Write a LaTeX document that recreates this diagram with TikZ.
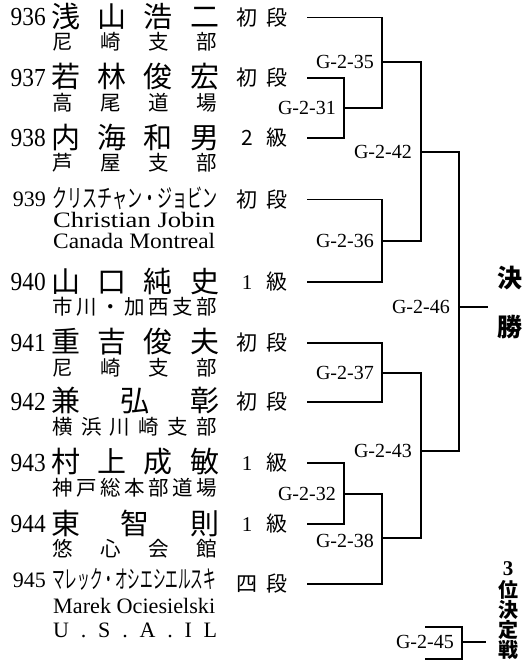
\documentclass[tikz,border=0pt]{standalone}
\usepackage{fontspec}
\usepackage{graphicx}
\setmainfont{Liberation Serif}
\newfontfamily\jp{Noto Sans CJK JP}
\newcommand\fs[1]{\fontsize{#1}{#1}\selectfont}
\newcommand\jus[2]{\makebox[#1][s]{#2}}
\newcommand\fitw[2]{\resizebox{#1}{\height}{#2}}
\newcommand\rk[2]{\makebox[20pt]{#1}\hspace{10pt}\makebox[20pt]{#2}}
\tikzset{
  num/.style={anchor=east, inner sep=0pt, font=\fs{26}},
  numsm/.style={anchor=east, inner sep=0pt, font=\fs{22}},
  nm/.style={anchor=west, inner sep=0pt, font=\jp\fs{29}},
  kana/.style={anchor=west, inner sep=0pt, font=\jp\fs{25}},
  aff/.style={anchor=west, inner sep=0pt, font=\jp\fs{20.5}},
  lat/.style={anchor=base west, inner sep=0pt, font=\fs{22}},
  rank/.style={anchor=west, inner sep=0pt, font=\jp\fs{21}},
  lbl/.style={anchor=east, inner sep=0pt, font=\fs{20}},
  ttl/.style={anchor=center, inner sep=0pt, font=\jp\bfseries\fs{25}},
  ttlsm/.style={anchor=center, inner sep=0pt, font=\jp\bfseries\fs{20}},
  br/.style={line width=1.1pt}
}
\begin{document}
\begin{tikzpicture}[x=1pt,y=-1pt]
\useasboundingbox (0,0) rectangle (525,660);
% ---------- entries ----------
% 936
\node[num] (n936) at (46,17.5) {\scalebox{0.9}[1]{936}};
\node[nm] (m936) at (51,16.5) {\jus{168pt}{浅\hfill 山\hfill 浩\hfill 二}};
\node[aff] (a936) at (52,41.5) {\jus{165pt}{尼\hfill 崎\hfill 支\hfill 部}};
\node[rank] (r936) at (237,17.5) {\rk{初}{段}};
% 937
\node[num] (n937) at (46,78) {\scalebox{0.9}[1]{937}};
\node[nm] (m937) at (51,77) {\jus{168pt}{若\hfill 林\hfill 俊\hfill 宏}};
\node[aff] (a937) at (52,102.5) {\jus{165pt}{高\hfill 尾\hfill 道\hfill 場}};
\node[rank] (r937) at (237,78) {\rk{初}{段}};
% 938
\node[num] (n938) at (46,138) {\scalebox{0.9}[1]{938}};
\node[nm] (m938) at (51,137) {\jus{168pt}{内\hfill 海\hfill 和\hfill 男}};
\node[aff] (a938) at (52,162.5) {\jus{165pt}{芦\hfill 屋\hfill 支\hfill 部}};
\node[rank] (r938) at (237,138) {\rk{2}{級}};
% 939
\node[numsm] (n939) at (46,199.5) {939};
\node[kana] (m939) at (52,198.5) {\fitw{165pt}{クリスチャン・ジョビン}};
\node[lat] (e939) at (53,227) {\fitw{162pt}{Christian Jobin}};
\node[lat] (c939) at (53,248) {\fitw{162pt}{Canada Montreal}};
\node[rank] (r939) at (237,199.5) {\rk{初}{段}};
% 940
\node[num] (n940) at (46,282) {\scalebox{0.9}[1]{940}};
\node[nm] (m940) at (51,282) {\jus{168pt}{山\hfill 口\hfill 純\hfill 史}};
\node[aff] (a940) at (52,306.5) {\jus{165pt}{市\hfill 川\hfill ・\hfill 加\hfill 西\hfill 支\hfill 部}};
\node[rank] (r940) at (237,282) {\rk{\fontspec{Liberation Serif}1}{級}};
% 941
\node[num] (n941) at (46,343) {\scalebox{0.9}[1]{941}};
\node[nm] (m941) at (51,342) {\jus{168pt}{重\hfill 吉\hfill 俊\hfill 夫}};
\node[aff] (a941) at (52,367.5) {\jus{165pt}{尼\hfill 崎\hfill 支\hfill 部}};
\node[rank] (r941) at (237,343) {\rk{初}{段}};
% 942
\node[num] (n942) at (46,402) {\scalebox{0.9}[1]{942}};
\node[nm] (m942) at (51,401) {\jus{168pt}{兼\hfill 弘\hfill 彰}};
\node[aff] (a942) at (52,426.5) {\jus{165pt}{横\hfill 浜\hfill 川\hfill 崎\hfill 支\hfill 部}};
\node[rank] (r942) at (237,402) {\rk{初}{段}};
% 943
\node[num] (n943) at (46,463) {\scalebox{0.9}[1]{943}};
\node[nm] (m943) at (51,462) {\jus{168pt}{村\hfill 上\hfill 成\hfill 敏}};
\node[aff] (a943) at (52,487.5) {\jus{165pt}{神\hfill 戸\hfill 総\hfill 本\hfill 部\hfill 道\hfill 場}};
\node[rank] (r943) at (237,463) {\rk{\fontspec{Liberation Serif}1}{級}};
% 944
\node[num] (n944) at (46,524) {\scalebox{0.9}[1]{944}};
\node[nm] (m944) at (51,523) {\jus{168pt}{東\hfill 智\hfill 則}};
\node[aff] (a944) at (52,548.5) {\jus{165pt}{悠\hfill 心\hfill 会\hfill 館}};
\node[rank] (r944) at (237,524) {\rk{\fontspec{Liberation Serif}1}{級}};
% 945
\node[numsm] (n945) at (46,580) {945};
\node[kana] (m945) at (52,579.5) {\fitw{164pt}{マレック・オシエシエルスキ}};
\node[lat] (e945) at (53,613) {\fitw{162pt}{Marek Ociesielski}};
\node[lat] (c945) at (53,637) {\jus{164pt}{U\hfill .\hfill S\hfill .\hfill A\hfill .\hfill I\hfill L}};
\node[rank] (r945) at (237,584) {\rk{四}{段}};
% ---------- bracket ----------
\coordinate (p1) at (307,17.5);
\coordinate (p2) at (307,78);
\coordinate (p3) at (307,138);
\coordinate (p4) at (307,199.5);
\coordinate (p5) at (307,282);
\coordinate (p6) at (307,343);
\coordinate (p7) at (307,402);
\coordinate (p8) at (307,463);
\coordinate (p9) at (307,524);
\coordinate (p10) at (307,584);
\coordinate (j31) at (344,108);
\coordinate (j35) at (382,62);
\coordinate (j36) at (382,241);
\coordinate (j42) at (421,152);
\coordinate (j37) at (382,373);
\coordinate (j32) at (344,494);
\coordinate (j38) at (382,538);
\coordinate (j43) at (421,451);
\coordinate (j46) at (459,307);
\coordinate (fin) at (488,307);
\coordinate (t1) at (425,627);
\coordinate (t2) at (425,659);
\coordinate (j45) at (462,642);
\coordinate (thr) at (486,642);
\draw[br] (p2) -| (j31) |- (p3);
\draw[br] (p1) -| (j35) |- (j31);
\draw[br] (p4) -| (j36) |- (p5);
\draw[br] (j35) -| (j42) |- (j36);
\draw[br] (p6) -| (j37) |- (p7);
\draw[br] (p8) -| (j32) |- (p9);
\draw[br] (j32) -| (j38) |- (p10);
\draw[br] (j37) -| (j43) |- (j38);
\draw[br] (j42) -| (j46) |- (j43);
\draw[br] (j46) -- (fin);
\draw[br] (t1) -| (j45) |- (t2);
\draw[br] (j45) -- (thr);
% ---------- match labels ----------
\node[lbl] (g31) at ([xshift=-8pt]j31) {G-2-31};
\node[lbl] (g35) at ([xshift=-8pt]j35) {G-2-35};
\node[lbl] (g36) at ([xshift=-8pt]j36) {G-2-36};
\node[lbl] (g42) at ([xshift=-9pt]j42) {G-2-42};
\node[lbl] (g37) at ([xshift=-8pt]j37) {G-2-37};
\node[lbl] (g32) at ([xshift=-8pt]j32) {G-2-32};
\node[lbl] (g38) at ([xshift=-8pt,yshift=-3pt]j38) {G-2-38};
\node[lbl] (g43) at ([xshift=-9pt]j43) {G-2-43};
\node[lbl] (g46) at ([xshift=-9pt]j46) {G-2-46};
\node[lbl] (g45) at ([xshift=-8pt]j45) {G-2-45};
% ---------- titles ----------
\node[ttl] (k1) at (510,278) {決};
\node[ttl] (k2) at (510,327) {勝};
\node[ttlsm] (s1) at (508,568.5) {\fontspec{Liberation Serif}\bfseries\fs{21}3};
\node[ttlsm] (s2) at (508,589.5) {位};
\node[ttlsm] (s3) at (508,609.5) {決};
\node[ttlsm] (s4) at (508,630) {定};
\node[ttlsm] (s5) at (508,649.5) {戦};
\end{tikzpicture}
\end{document}
